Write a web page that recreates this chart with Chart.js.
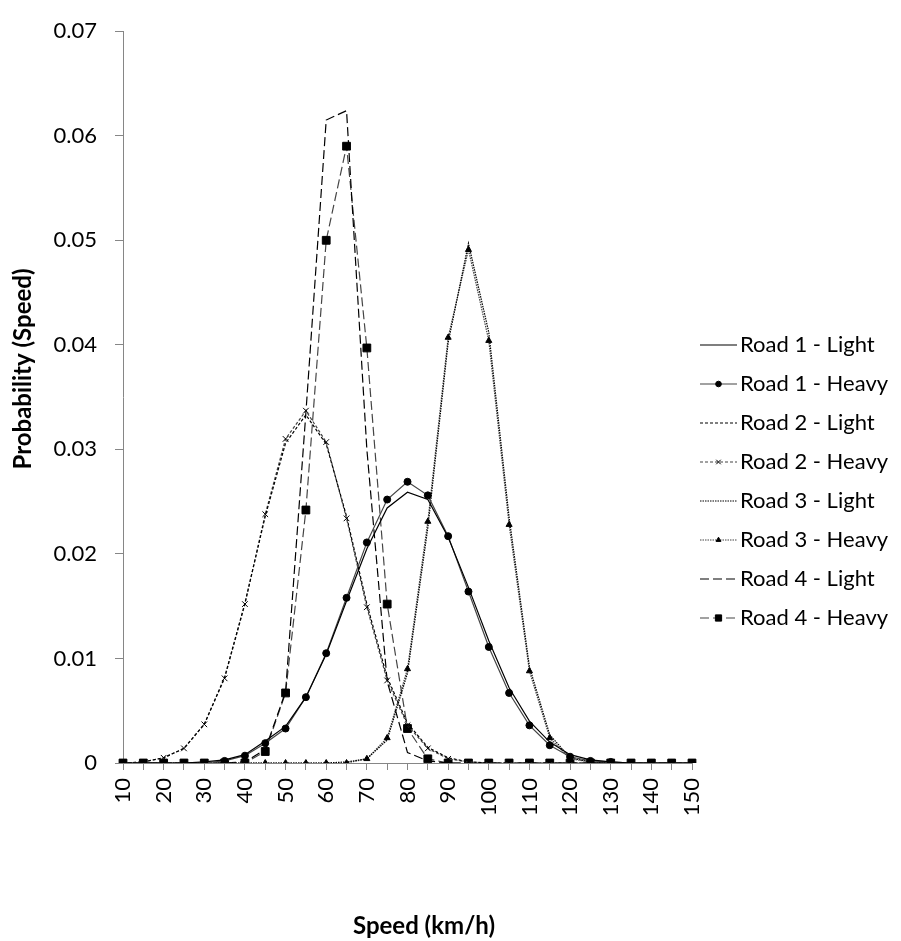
<!DOCTYPE html>
<html>
<head>
<meta charset="utf-8">
<script src="https://cdn.jsdelivr.net/npm/chart.js@4"></script>
<style>
  html, body { margin: 0; padding: 0; background: #fff; }
  #wrap { width: 901px; height: 941px; }
</style>
</head>
<body>
<div id="wrap"><canvas id="speedChart" width="901" height="941"></canvas></div>
<script>
// hastighetsklasser (km/h)
const speeds = [10,15,20,25,30,35,40,45,50,55,60,65,70,75,80,85,90,95,100,105,110,115,120,125,130,135,140,145,150];

// sannolikheter
const road1Light = [0,0,0,0,0.0001,0.0003,0.0008,0.0021,0.0035,0.0063,0.0104,0.0155,0.0205,0.0244,0.0259,0.0252,0.0216,0.0168,0.0117,0.0072,0.0040,0.0020,0.0008,0.0003,0.0001,0,0,0,0];
const road1Heavy = [0,0,0,0,0,0.0002,0.0007,0.0019,0.0033,0.0063,0.0105,0.0158,0.0211,0.0252,0.0269,0.0256,0.0217,0.0164,0.0111,0.0067,0.0036,0.0017,0.0006,0.0002,0.0001,0,0,0,0];
const road2Light = [0,0.0001,0.0005,0.0014,0.0037,0.0082,0.0153,0.0236,0.0306,0.0333,0.0305,0.0236,0.0152,0.0082,0.0038,0.0015,0.0005,0.0001,0,0,0,0,0,0,0,0,0,0,0];
const road2Heavy = [0,0.0001,0.0005,0.0014,0.0037,0.0081,0.0152,0.0238,0.0310,0.0337,0.0307,0.0234,0.0149,0.0079,0.0036,0.0014,0.0004,0.0001,0,0,0,0,0,0,0,0,0,0,0];
const road3Light = [0,0,0,0,0,0,0,0,0,0,0,0.0001,0.0004,0.0022,0.0086,0.0225,0.0402,0.0497,0.0412,0.0235,0.0092,0.0027,0.0005,0.0001,0,0,0,0,0];
const road3Heavy = [0,0,0,0,0,0,0,0,0,0,0,0,0.0004,0.0024,0.0090,0.0231,0.0407,0.0491,0.0404,0.0228,0.0088,0.0024,0.0004,0.0001,0,0,0,0,0];
const road4Light = [0,0,0,0,0,0,0.0001,0.0013,0.0068,0.0335,0.0615,0.0624,0.0300,0.0078,0.0010,0.0002,0,0,0,0,0,0,0,0,0,0,0,0,0];
const road4Heavy = [0,0,0,0,0,0,0,0.0011,0.0067,0.0242,0.0500,0.0590,0.0397,0.0152,0.0033,0.0004,0,0,0,0,0,0,0,0,0,0,0,0,0];

const yTicks = [0,0.01,0.02,0.03,0.04,0.05,0.06,0.07];

const xTitle = "Speed (km/h)";
const yTitle = "Probability (Speed)";

const FONT = "Lato, 'Open Sans', sans-serif";
const GREY = "#454545";

function serie(label, data, color, dash, pointStyle, radius) {
  return {
    label, data,
    borderColor: color,
    borderWidth: 1.2,
    borderDash: dash,
    pointStyle: pointStyle || "circle",
    pointRadius: radius || 0,
    pointHoverRadius: radius || 0,
    pointBackgroundColor: "#000",
    pointBorderColor: "#000",
    pointBorderWidth: 1,
    tension: 0,
    fill: false
  };
}

// egen förklaring till höger (linje + markör i mitten) och axeltitlar
const sideLegend = {
  id: "sideLegend",
  afterDraw(chart) {
    const ctx = chart.ctx;
    const x0 = 700, x1 = 737, yStart = 345, step = 39;
    ctx.save();
    chart.data.datasets.forEach((ds, i) => {
      const y = yStart + i * step;
      ctx.strokeStyle = ds.borderColor;
      ctx.lineWidth = ds.borderWidth;
      ctx.setLineDash(ds.borderDash || []);
      ctx.beginPath();
      ctx.moveTo(x0, y);
      ctx.lineTo(x1, y);
      ctx.stroke();
      ctx.setLineDash([]);
      if (ds.pointRadius > 0) {
        ctx.fillStyle = "#000";
        ctx.strokeStyle = "#000";
        ctx.lineWidth = 1;
        Chart.helpers.drawPoint(ctx, { pointStyle: ds.pointStyle, radius: ds.pointRadius * 0.8, rotation: 0, borderWidth: 1 }, (x0 + x1) / 2, y);
      }
      ctx.fillStyle = "#000";
      ctx.font = "22px " + FONT;
      ctx.textBaseline = "middle";
      ctx.textAlign = "left";
      ctx.fillText(ds.label, x1 + 3, y);
    });

    // axeltitlar
    ctx.font = "bold 24px " + FONT;
    ctx.textAlign = "center";
    ctx.textBaseline = "middle";
    ctx.fillText(xTitle, 424, 926);
    ctx.translate(23, 369);
    ctx.rotate(-Math.PI / 2);
    ctx.fillText(yTitle, 0, 0);
    ctx.restore();
  }
};

new Chart(document.getElementById("speedChart"), {
  type: "line",
  data: {
    labels: speeds,
    datasets: [
      serie("Road 1 - Light", road1Light, "#000", []),
      serie("Road 1 - Heavy", road1Heavy, GREY, [], "circle", 3.5),
      serie("Road 2 - Light", road2Light, "#000", [3, 2]),
      serie("Road 2 - Heavy", road2Heavy, GREY, [3, 2], "crossRot", 4),
      serie("Road 3 - Light", road3Light, "#000", [1.5, 1]),
      serie("Road 3 - Heavy", road3Heavy, GREY, [1.5, 1], "triangle", 3.5),
      serie("Road 4 - Light", road4Light, "#000", [9, 4]),
      serie("Road 4 - Heavy", road4Heavy, GREY, [9, 4], "rect", 5.5)
    ]
  },
  options: {
    responsive: false,
    animation: false,
    layout: { padding: { top: 23, right: 209, bottom: 0, left: 0 } },
    plugins: {
      legend: { display: false },
      tooltip: { enabled: false }
    },
    scales: {
      x: {
        offset: false,
        grid: { display: true, drawOnChartArea: false, offset: false, color: "#868686", tickLength: 7 },
        border: { color: "#868686" },
        ticks: {
          color: "#000", font: { family: FONT, size: 22 },
          minRotation: 90, maxRotation: 90, padding: 8, autoSkip: false,
          callback: (v, i) => (i % 2 === 0 ? speeds[i] : "")
        },
        afterFit: (s) => { s.height = 178; }
      },
      y: {
        min: 0, max: 0.07,
        afterBuildTicks: (s) => { s.ticks = yTicks.map(v => ({ value: v })); },
        grid: { display: true, drawOnChartArea: false, color: "#868686", tickLength: 8 },
        border: { color: "#868686" },
        ticks: { color: "#000", font: { family: FONT, size: 22 }, padding: 18, callback: (v) => String(+v.toFixed(2)) },
        afterFit: (s) => { s.width = 123; }
      }
    }
  },
  plugins: [sideLegend]
});
</script>
</body>
</html>
